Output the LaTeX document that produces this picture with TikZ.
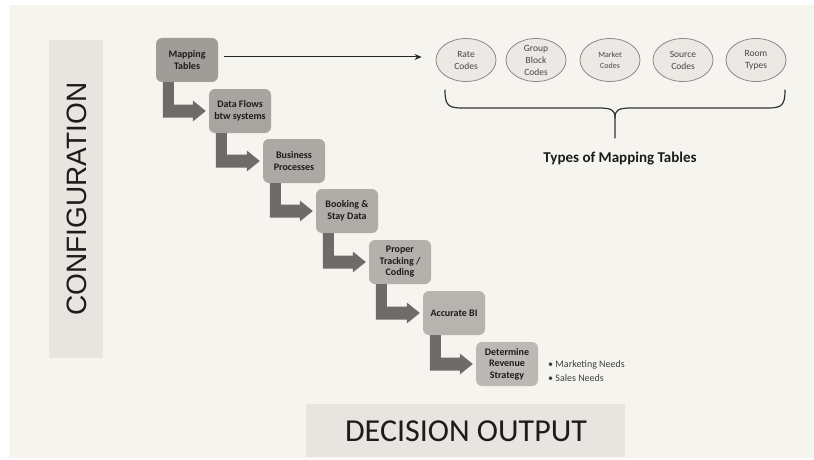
\documentclass[tikz,border=0pt]{standalone}
\usepackage{fontspec}
\setmainfont{Carlito}
\newfontfamily\arialfont{Liberation Sans}
\usetikzlibrary{calc,arrows.meta,shapes.geometric}
\definecolor{bgcol}{HTML}{F6F4EF}
\definecolor{bandcol}{HTML}{E8E4DF}
\definecolor{arrcol}{HTML}{6F6B68}
\definecolor{ellfill}{HTML}{ECE9E5}
\definecolor{elldraw}{HTML}{8C8986}
\definecolor{txtcol}{HTML}{1C1C1C}
\definecolor{c1}{HTML}{A09C98}
\definecolor{c2}{HTML}{A8A4A0}
\definecolor{c3}{HTML}{ACA8A4}
\definecolor{c4}{HTML}{B0ACA8}
\definecolor{c5}{HTML}{B4B0AC}
\definecolor{c6}{HTML}{B7B3AF}
\definecolor{c7}{HTML}{BCB8B4}
\tikzset{
  stepbox/.style={rectangle, rounded corners=6pt, minimum width=62pt, minimum height=44pt,
    inner sep=1pt, align=center, text=txtcol,
    font=\bfseries\fontsize{10}{11.5}\selectfont},
  codeell/.style={ellipse, draw=elldraw, line width=0.8pt, fill=ellfill,
    minimum width=60pt, minimum height=43pt, inner sep=0pt, align=center,
    text=black!72, font=\fontsize{9.5}{12}\selectfont},
  band/.style={fill=bandcol, draw=none},
}
\newcommand{\bentarrow}[2]{%
  \fill[arrcol] ($(#1.south west)+(7,0)$) -- ($(#1.south west)+(18,0)$)
    |- ($(#2.west)+(-16,-6.5)$) -- ($(#2.west)+(-16,-10.5)$)
    -- ($(#2.west)+(-3,0)$) -- ($(#2.west)+(-16,10.5)$)
    -- ($(#2.west)+(-16,6.5)$) -| ($(#1.south west)+(7,0)$) -- cycle;}
\begin{document}
\begin{tikzpicture}[x=1pt,y=-1pt]
\useasboundingbox (0,0) rectangle (814,460);
\fill[white] (0,0) rectangle (814,460);
\fill[bgcol] (9,5) rectangle (814,458);
% side bands
\fill[band] (49,40) rectangle (103,358);
\node[rotate=90, text=txtcol, font=\arialfont\fontsize{28}{30}\selectfont] (conf) at (77,199) {CONFIGURATION};
\fill[band] (306,404) rectangle (625,457);
\node[text=txtcol, font=\fontsize{32}{34}\selectfont] (dec) at (466,431) {DECISION OUTPUT};
% steps
\node[stepbox, fill=c1] (m1) at (187,60) {Mapping\\Tables};
\node[stepbox, fill=c2] (m2) at (240,111) {Data Flows\\btw systems};
\node[stepbox, fill=c3] (m3) at (294,161) {Business\\Processes};
\node[stepbox, fill=c4] (m4) at (347,211) {Booking \&\\Stay Data};
\node[stepbox, fill=c5] (m5) at (400,262) {Proper\\Tracking /\\Coding};
\node[stepbox, fill=c6] (m6) at (454,313) {Accurate BI};
\node[stepbox, fill=c7] (m7) at (507,364) {Determine\\Revenue\\Strategy};
\bentarrow{m1}{m2}
\bentarrow{m2}{m3}
\bentarrow{m3}{m4}
\bentarrow{m4}{m5}
\bentarrow{m5}{m6}
\bentarrow{m6}{m7}
% ellipses
\node[codeell] (e1) at (466,60) {Rate\\Codes};
\node[codeell] (e2) at (536,60) {Group\\Block\\Codes};
\node[codeell, font=\fontsize{8}{11}\selectfont] (e3) at (610,60) {Market\\Codes};
\node[codeell] (e4) at (683,60) {Source\\Codes};
\node[codeell] (e5) at (756,60) {Room\\Types};
\draw[line width=1pt, black!85, -{Stealth[length=7pt,width=6pt]}] ($(m1.east)+(6,-3)$) -- ($(e1.west)+(-14,-3)$);
% brace
\draw[line width=1.2pt, black!80, line cap=round]
  (445,90) .. controls (445,105) and (448,108) .. (462,108) -- (598,108)
  .. controls (612,108) and (615,110) .. (615,118) -- (615,138);
\draw[line width=1.2pt, black!80, line cap=round]
  (785,90) .. controls (785,105) and (782,108) .. (768,108) -- (632,108)
  .. controls (618,108) and (615,110) .. (615,118);
\node[text=txtcol, font=\bfseries\fontsize{15}{17}\selectfont] (types) at (620,159) {Types of Mapping Tables};
% bullets
\node[anchor=west, align=left, text=black!75, inner sep=0pt, font=\fontsize{10}{13.5}\selectfont] (needs) at (548,371) {• Marketing Needs\\• Sales Needs};
\end{tikzpicture}
\end{document}
